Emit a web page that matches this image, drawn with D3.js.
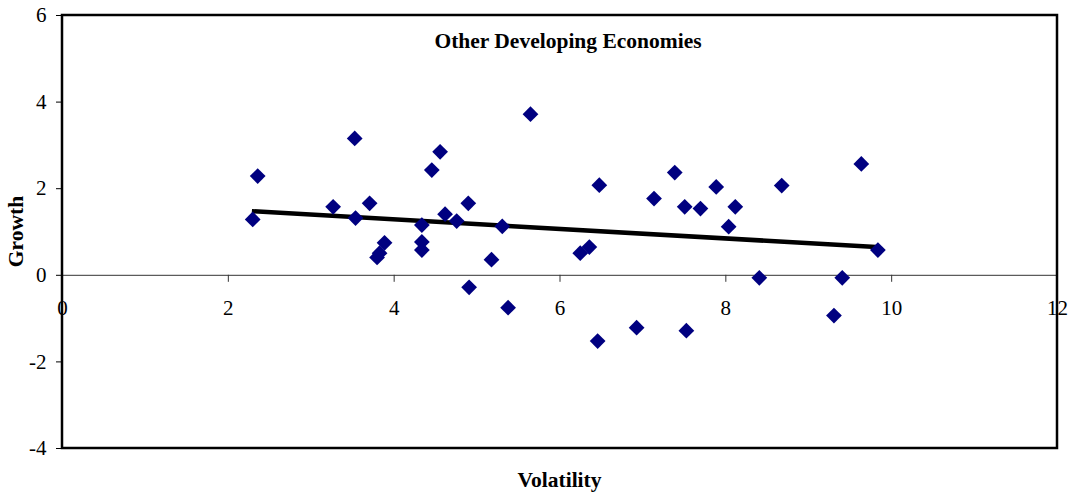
<!DOCTYPE html>
<html>
<head>
<meta charset="utf-8">
<script src="https://cdn.jsdelivr.net/npm/d3@7"></script>
<style>
  body { margin: 0; background: #fff; }
  svg { display: block; }
</style>
</head>
<body>
<svg></svg>
<script>
// Volatility / growth pairs
let volatility = [2.30, 2.36, 3.27, 3.53, 3.54, 3.71, 3.80, 3.83, 3.89, 4.34,
    4.34, 4.34, 4.46, 4.56, 4.62, 4.76, 4.90, 4.91, 5.18, 5.31,
    5.38, 5.65, 6.25, 6.36, 6.48, 6.46, 6.93, 7.14, 7.39, 7.51,
    7.53, 7.70, 7.89, 8.04, 8.12, 8.41, 8.68, 9.31, 9.41, 9.64, 9.84];
let growth = [1.28, 2.28, 1.57, 3.15, 1.31, 1.65, 0.40, 0.50, 0.74, 1.15,
    0.76, 0.57, 2.42, 2.84, 1.40, 1.24, 1.65, -0.29, 0.35, 1.12,
    -0.76, 3.71, 0.50, 0.64, 2.07, -1.53, -1.22, 1.76, 2.36, 1.57,
    -1.29, 1.53, 2.03, 1.11, 1.57, -0.07, 2.06, -0.94, -0.07, 2.56, 0.57];

// linear trend line end points
let trendX = [2.29, 9.82],
    trendY = [1.47, 0.64];

let xTicks = [0, 2, 4, 6, 8, 10, 12],
    yTicks = [-4, -2, 0, 2, 4, 6];

let svg = d3.select("svg").attr("width", 1073).attr("height", 496),
    margin = {top: 15, left: 62},
    width = 995,
    height = 433,
    g = svg.append("g").attr("transform", "translate(" + margin.left + "," + margin.top + ")");

let x = d3.scaleLinear().domain([0, 12]).range([0, width]),
    y = d3.scaleLinear().domain([-4, 6]).range([height, 0]);

let points = volatility.map(function(v, i) { return {x: v, y: growth[i]}; });

function tickFont(s) {
    s.selectAll("text")
        .style("font-family", "'Liberation Serif', 'Times New Roman', serif")
        .style("font-size", "21px")
        .attr("fill", "#000");
}

// y axis ticks + labels
g.append("g")
    .attr("class", "axis axis--y")
    .call(d3.axisLeft(y).tickValues(yTicks).tickSize(6).tickPadding(9.5).tickFormat(function(d) { return String(d); }))
    .call(function(s) { s.select(".domain").remove(); })
    .call(function(s) { s.selectAll("line").attr("stroke", "#000"); })
    .call(tickFont);

// x axis sits on growth = 0
g.append("g")
    .attr("class", "axis axis--x")
    .attr("transform", "translate(0," + y(0) + ")")
    .call(d3.axisBottom(x).tickValues(xTicks).tickSize(7).tickPadding(18.5).tickFormat(function(d) { return String(d); }))
    .call(function(s) { s.select(".domain").attr("stroke", "#333").attr("stroke-width", 1); })
    .call(function(s) { s.selectAll("line").attr("stroke", "#333"); })
    .call(tickFont);

// plot frame
g.append("rect")
    .attr("width", width)
    .attr("height", height)
    .attr("fill", "none")
    .attr("stroke", "#000")
    .attr("stroke-width", 2.5);

// trend line
g.append("line")
    .attr("x1", x(trendX[0])).attr("y1", y(trendY[0]))
    .attr("x2", x(trendX[1])).attr("y2", y(trendY[1]))
    .attr("stroke", "#000")
    .attr("stroke-width", 4.5);

// diamonds
let diamond = d3.symbol().type(d3.symbolSquare).size(124);
g.selectAll(".dot")
    .data(points)
    .enter().append("path")
    .attr("class", "dot")
    .attr("d", diamond)
    .attr("transform", function(d) { return "translate(" + x(d.x) + "," + y(d.y) + ") rotate(45)"; })
    .attr("fill", "#000080");

// Title
svg.append("text")
    .text("Other Developing Economies")
    .attr("x", 568)
    .attr("y", 48)
    .attr("text-anchor", "middle")
    .style("font", "bold 21.5px 'Liberation Serif', serif");

// Y axis label
svg.append("text")
    .text("Growth")
    .attr("transform", "translate(23," + (margin.top + height / 2) + ") rotate(-90)")
    .attr("text-anchor", "middle")
    .style("font", "bold 21.5px 'Liberation Serif', serif");

// X axis label
svg.append("text")
    .text("Volatility")
    .attr("x", margin.left + width / 2)
    .attr("y", 487)
    .attr("text-anchor", "middle")
    .style("font", "bold 21.5px 'Liberation Serif', serif");
</script>
</body>
</html>
